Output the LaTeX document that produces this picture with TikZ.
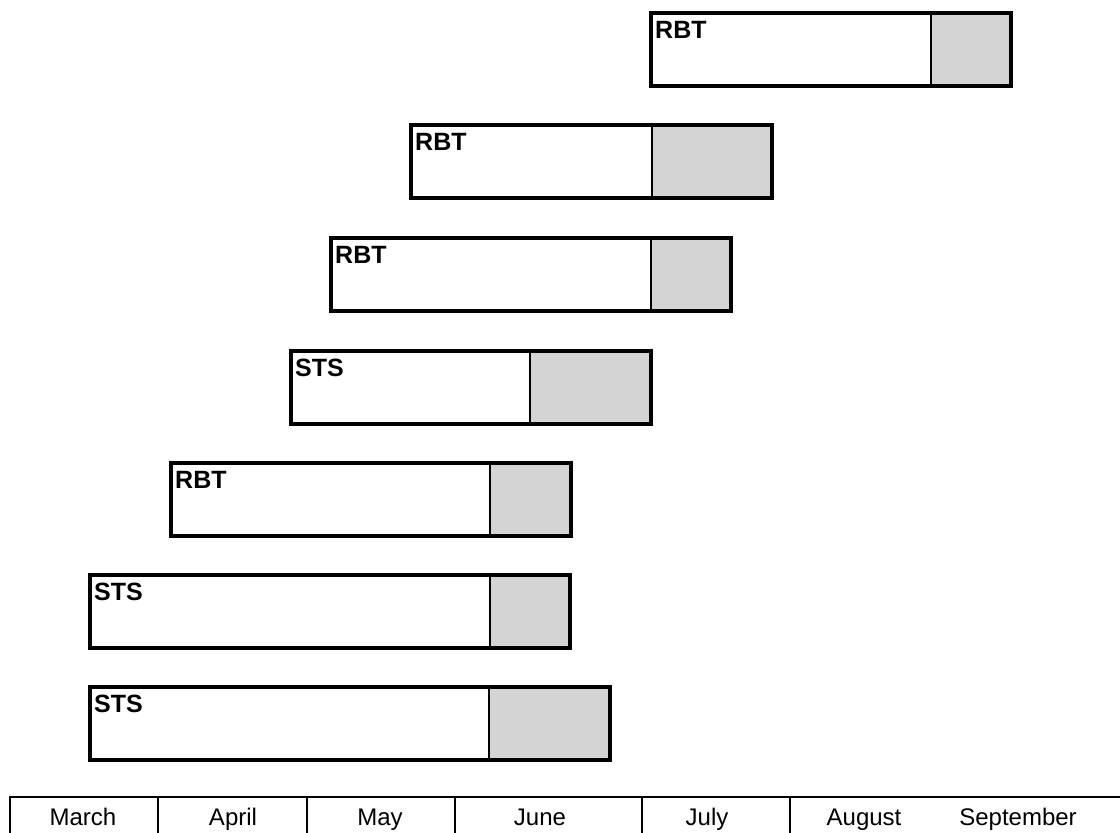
\documentclass[tikz,border=0pt]{standalone}
\usepackage{fontspec}
\setmainfont{Liberation Sans}
\begin{document}
\begin{tikzpicture}[x=1pt,y=-1pt,
  boxline/.style={draw=black, line width=3.4pt, line join=miter},
  divline/.style={draw=black, line width=1.8pt},
  shadecol/.style={fill=black!17},
  lab/.style={anchor=north west, inner sep=0pt, font=\fontsize{25}{27}\selectfont\bfseries},
  axisline/.style={draw=black, line width=1.8pt},
  month/.style={anchor=base, inner sep=0pt, font=\fontsize{24}{26}\selectfont}]
\useasboundingbox (0,0) rectangle (1120,833);
\fill[white] (0,0) rectangle (1120,833);
\foreach \l/\t/\d/\r/\lab/\n in {651/13/931/1011/RBT/1, 411/125/652/772/RBT/2, 331/238/651/731/RBT/3, 291/351/530/651/STS/4, 171/463/490/571/RBT/5, 90/575/490/570/STS/6, 90/687/489/610/STS/7}{
  \fill[shadecol] (\d,\t) rectangle (\r,\t+73);
  \draw[divline] (\d,\t) -- (\d,\t+73);
  \draw[boxline] (\l,\t) rectangle (\r,\t+73);
  \node[lab] (lab\n) at (\l+4,\t+8) {\lab};
}
% timeline
\draw[axisline] (9,797) -- (1120,797);
\foreach \x in {10,158,307,455,642,790}{
  \draw[axisline] (\x,797) -- (\x,833);
}
\node[month] (m1) at (83,825) {March};
\node[month] (m2) at (233,825) {April};
\node[month] (m3) at (380,825) {May};
\node[month] (m4) at (540,825) {June};
\node[month] (m5) at (707,825) {July};
\node[month] (m6) at (864,825) {August};
\node[month] (m7) at (1018,825) {September};
\end{tikzpicture}
\end{document}
